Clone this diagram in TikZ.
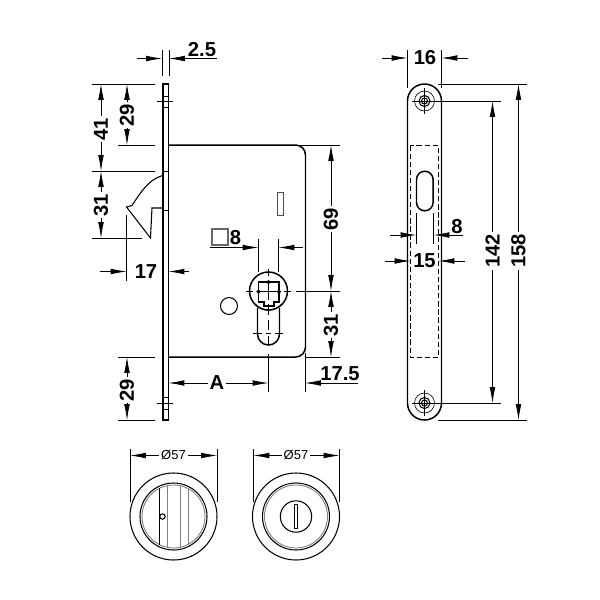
\documentclass[tikz,border=0pt]{standalone}
\usepackage{fontspec}
\setmainfont{Liberation Sans}
\usetikzlibrary{arrows.meta}
\tikzset{
    part/.style={line width=0.6pt},
    thick part/.style={line width=0.85pt},
    thin part/.style={line width=0.35pt},
    grey part/.style={line width=0.5pt,black!50},
    dim/.style={line width=0.4pt},
    tip/.style={{Latex[length=9pt,width=3.2pt]}-{Latex[length=9pt,width=3.2pt]},line width=0.4pt},
    tip end/.style={-{Latex[length=9pt,width=3.2pt]},line width=0.4pt},
    size/.style={font=\fontsize{11.5}{11.5}\selectfont\bfseries,inner sep=1pt},
    size on line/.style={size,fill=white},
    dia/.style={font=\fontsize{7.4}{7.4}\selectfont,fill=white,inner sep=1.2pt}
}
\begin{document}
\begin{tikzpicture}[x=0.02cm,y=-0.02cm]
    \useasboundingbox (0,0) rectangle (600,600);
    % front view: plate and case
    \draw[thick part] (163,84) rectangle (168.5,420);
    \draw[thick part] (168.5,145) -- (295.5,145) arc[start angle=-90,end angle=0,radius=10] -- (305.5,347) arc[start angle=0,end angle=90,radius=10] -- (168.5,357);
    \draw[thin part] (163,96) -- (168.5,96) (163,107) -- (168.5,107) (157,101) -- (173,101);
    \draw[thin part] (163,397) -- (168.5,397) (163,409) -- (168.5,409) (157,403) -- (173,403);
    \draw[thin part] (163,171) -- (168.5,171) (163,210) -- (168.5,210);
    % latch
    \draw[part] (162.5,175.5) .. controls (148,180) and (141,192) .. (132,205.5) -- (126.5,207) -- (150.5,238) -- (152,208) -- (162.5,208);
    % slot in the case
    \draw[part,black!70] (277.3,192.5) rectangle (283.7,215.5);
    \draw[part] (229,306) circle[radius=8.5];
    % cylinder
    \draw[thick part] (268.5,291) circle[radius=19];
    \draw[thick part] (257.5,308) -- (257.5,334) arc[start angle=180,end angle=0,radius=11] -- (279.5,308);
    \draw[part] (255,304) .. controls (262,312) and (275,312) .. (282,304);
    \draw[thick part] (258.5,282) -- (279,282) -- (279,302) -- (274,302) -- (274,306) -- (264,306) -- (264,302) -- (258.5,302) -- cycle;
    \draw[part] (268.5,282) circle[radius=1.5] (258.5,291.5) circle[radius=1.5] (279,291.5) circle[radius=1.5];
    \draw[thin part] (268.5,269) -- (268.5,276) (268.5,280) -- (268.5,300);
    \draw[thin part] (246,291) -- (253,291) (258,291) -- (279,291) (284,291) -- (291,291);
    \draw[thin part,dash pattern=on 6pt off 3pt] (268.5,304) -- (268.5,344);
    \draw[thin part] (253,333.5) -- (262,333.5) (266,333.5) -- (271,333.5) (275,333.5) -- (283,333.5);
    % dimensions of the front view
    \draw[dim] (162,50) -- (162,76) (169,50) -- (169,76);
    \draw[tip end] (137,58.5) -- (162,58.5);
    \draw[tip end] (217,58.5) -- (169,58.5);
    \node[size] (w25) at (202,50) {2.5};
    \draw[dim] (92,84) -- (155,84) (118,145) -- (155,145) (92,171) -- (155,171) (92,238) -- (142,238);
    \draw[tip] (127,84) -- (127,145);
    \node[size on line,rotate=90] (h29a) at (127,115) {29};
    \draw[tip] (101,84) -- (101,171);
    \node[size on line,rotate=90] (h41) at (101,129) {41};
    \draw[tip] (101,171) -- (101,238);
    \node[size on line,rotate=90] (h31a) at (101,205) {31};
    \draw[dim] (126.5,215) -- (126.5,281);
    \draw[tip end] (100,271.5) -- (126.5,271.5);
    \draw[tip end] (189,271.5) -- (168.5,271.5);
    \node[size] (w17) at (146,271.5) {17};
    \draw[part,black!60] (212,229) rectangle (228,245);
    \node[size] (s8) at (235.5,237.5) {8};
    \draw[dim] (258.5,239) -- (258.5,272) (278.5,239) -- (278.5,272);
    \draw[tip end] (210,247.5) -- (258.5,247.5);
    \draw[tip end] (303,247.5) -- (278.5,247.5);
    \draw[dim] (296,291) -- (340,291) (305,357) -- (340,357) (297,145) -- (340,145);
    \draw[tip] (331,145) -- (331,291);
    \node[size on line,rotate=90] (h69) at (331,219) {69};
    \draw[tip] (331,291) -- (331,357);
    \node[size on line,rotate=90] (h31b) at (331,325) {31};
    \draw[dim] (118,357) -- (155,357) (118,420) -- (155,420);
    \draw[tip] (127,357) -- (127,420);
    \node[size on line,rotate=90] (h29b) at (127,390) {29};
    \draw[dim] (268.5,354) -- (268.5,392) (305,353) -- (305,392);
    \draw[tip] (168.5,383) -- (268.5,383);
    \node[size on line] (wA) at (217,383) {A};
    \draw[tip end] (358,383) -- (305,383);
    \node[size] (w175) at (340,374) {17.5};
    % side view
    \draw[thick part] (407.5,101) arc[start angle=180,end angle=360,radius=17] -- (441.5,403) arc[start angle=0,end angle=180,radius=17] -- cycle;
    \draw[part,dash pattern=on 3pt off 1.6pt] (410.5,145.5) rectangle (438.5,357.5);
    \draw[thick part] (416.5,179.5) arc[start angle=180,end angle=360,radius=8.3] -- (433.1,202.5) arc[start angle=0,end angle=180,radius=8.3] -- cycle;
    \foreach \y in {101,403}{
        \draw[thin part] (424.5,\y) circle[radius=10];
        \draw[part] (424.5,\y) circle[radius=5.5];
        \draw[part] (424.5,\y) circle[radius=3];
        \draw[thin part] (412,\y) -- (437,\y) (424.5,\y-13) -- (424.5,\y+13);
    }
    % dimensions of the side view
    \draw[dim] (407.5,50) -- (407.5,88) (441.5,50) -- (441.5,88);
    \draw[tip end] (382,58) -- (407.5,58);
    \draw[tip end] (468,58) -- (441.5,58);
    \node[size] (w16) at (425,58) {16};
    \draw[dim] (438,84) -- (527,84) (438,420) -- (527,420) (424.5,101) -- (501,101) (424.5,403) -- (501,403);
    \draw[tip] (492.5,101) -- (492.5,403);
    \node[size on line,rotate=90] (h142) at (492.5,251) {142};
    \draw[tip] (518.5,84) -- (518.5,420);
    \node[size on line,rotate=90] (h158) at (518.5,251) {158};
    \draw[dim] (416.5,213) -- (416.5,244) (433.5,213) -- (433.5,244);
    \draw[tip end] (390,235) -- (416.5,235);
    \draw[tip end] (463,235) -- (433.5,235);
    \node[size] (w8) at (457,226.5) {8};
    \draw[tip end] (385,261) -- (410.5,261);
    \draw[tip end] (465,261) -- (438.5,261);
    \node[size] (w15) at (424.5,261) {15};
    % handles
    \foreach \x in {173.5,296}{
        \draw[part] (\x,516.5) circle[radius=43.5];
        \draw[part] (\x,516.5) circle[radius=33.5];
        \draw[grey part] (\x,516.5) circle[radius=31.5];
    }
    \draw[part] (159.5,488) -- (159.5,545);
    \draw[grey part] (167.5,485.5) -- (167.5,547.5) (180,485.5) -- (180,547.5) (188,488.5) -- (188,544.5);
    \draw[part,fill=white] (162.5,516.5) circle[radius=2.7];
    \draw[part] (296,516.5) circle[radius=15.7];
    \draw[part] (294.3,504.5) rectangle (297.5,528.5);
    % dimensions of the handles
    \draw[dim] (130,449) -- (130,502) (217,449) -- (217,502);
    \draw[tip] (130,455.5) -- (217,455.5);
    \node[dia] (d57a) at (173.5,455) {Ø57};
    \draw[dim] (253.5,449) -- (253.5,502) (339.5,449) -- (339.5,502);
    \draw[tip] (253.5,455.5) -- (339.5,455.5);
    \node[dia] (d57b) at (296,455) {Ø57};
\end{tikzpicture}
\end{document}
